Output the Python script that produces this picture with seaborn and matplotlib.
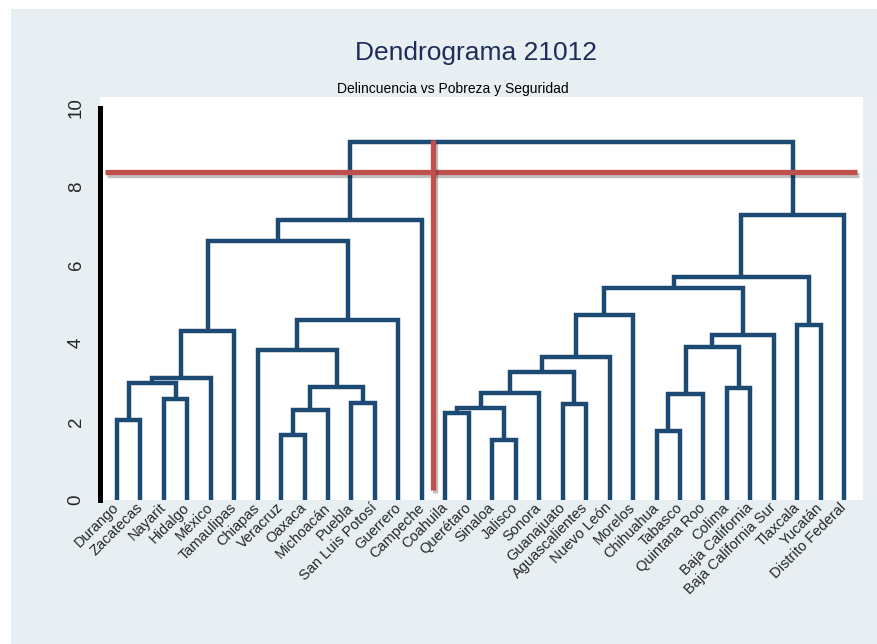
import pandas as pd
import seaborn as sns
import matplotlib.pyplot as plt
import matplotlib.patheffects as pe
from matplotlib.patches import Rectangle

sns.set_theme(style="white")
plt.rcParams['font.family'] = ['Liberation Sans', 'DejaVu Sans']

estados = ['Durango', 'Zacatecas', 'Nayarit', 'Hidalgo', 'México', 'Tamaulipas',
           'Chiapas', 'Veracruz', 'Oaxaca', 'Michoacán', 'Puebla', 'San Luis Potosí',
           'Guerrero', 'Campeche', 'Coahuila', 'Querétaro', 'Sinaloa', 'Jalisco',
           'Sonora', 'Guanajuato', 'Aguascalientes', 'Nuevo León', 'Morelos',
           'Chihuahua', 'Tabasco', 'Quintana Roo', 'Colima', 'Baja California',
           'Baja California Sur', 'Tlaxcala', 'Yucatán', 'Distrito Federal']

# uniones del dendrograma: c0, c1, ... en orden
izq = ['Durango', 'Nayarit', 'c0', 'c2', 'c3', 'Veracruz', 'c5', 'Puebla', 'c6',
       'Chiapas', 'c9', 'c4', 'c11', 'Coahuila', 'Sinaloa', 'c13', 'c15',
       'Guanajuato', 'c16', 'c18', 'c19', 'Chihuahua', 'c21', 'Colima', 'c22',
       'c24', 'c20', 'Tlaxcala', 'c26', 'c28', 'c12']
der = ['Zacatecas', 'Hidalgo', 'c1', 'México', 'Tamaulipas', 'Oaxaca', 'Michoacán',
       'San Luis Potosí', 'c7', 'c8', 'Guerrero', 'c10', 'Campeche', 'Querétaro',
       'Jalisco', 'c14', 'Sonora', 'Aguascalientes', 'c17', 'Nuevo León', 'Morelos',
       'Tabasco', 'Quintana Roo', 'Baja California', 'c23', 'Baja California Sur',
       'c25', 'Yucatán', 'c27', 'Distrito Federal', 'c29']
altura = [2.04, 2.58, 2.98, 3.11, 4.31, 1.66, 2.30, 2.47, 2.88, 3.83, 4.59, 6.61,
          7.14, 2.22, 1.53, 2.35, 2.73, 2.45, 3.27, 3.65, 4.72, 1.76, 2.70, 2.86,
          3.90, 4.21, 5.41, 4.46, 5.69, 7.27, 9.13]

corte_h = 8.37
corte_v = 13.47

pos = {e: i for i, e in enumerate(estados)}
alt = {e: 0.0 for e in estados}
rows = []
for k, (a, b, h) in enumerate(zip(izq, der, altura)):
    xa, xb = pos[a], pos[b]
    for x, y in [(xa, alt[a]), (xa, h), (xb, h), (xb, alt[b])]:
        rows.append({'seg': k, 'x': x, 'y': y})
    pos[f'c{k}'] = (xa + xb) / 2
    alt[f'c{k}'] = h
df = pd.DataFrame(rows)

fig = plt.figure(figsize=(8.77, 6.44), dpi=100, facecolor='white')
fig.patches.append(Rectangle((11 / 877, 0), 1, 1 - 9 / 644, transform=fig.transFigure,
                             facecolor='#e8eff2', edgecolor='none', zorder=-1))
ax = fig.add_axes([0.114, 0.2236, 0.870, 0.626])
ax.set_facecolor('white')

sns.lineplot(data=df, x='x', y='y', units='seg', estimator=None, sort=False,
             color='#1d4a73', lw=3.2, ax=ax, legend=False,
             solid_joinstyle='miter', solid_capstyle='butt')

sombra = [pe.SimpleLineShadow(offset=(1.5, -2), alpha=0.25, shadow_color='black'), pe.Normal()]
ax.plot([-0.51, 31.56], [corte_h, corte_h], color='#c0504d', lw=3.8,
        solid_capstyle='butt', path_effects=sombra, zorder=5)
ax.plot([corte_v, corte_v], [0.25, altura[-1] + 0.05], color='#c0504d', lw=3.8,
        solid_capstyle='butt', path_effects=sombra, zorder=5)

ax.set_xlim(-0.72, 31.8)
ax.set_ylim(0, 10.28)
for s in ['top', 'right', 'bottom']:
    ax.spines[s].set_visible(False)
ax.spines['left'].set_color('black')
ax.spines['left'].set_linewidth(3.6)
ax.spines['left'].set_bounds(0, 10)

ax.set_yticks([0, 2, 4, 6, 8, 10])
ax.set_yticklabels(['0', '2', '4', '6', '8', '10'], rotation=90, va='center', fontsize=13.5)
ax.tick_params(axis='y', direction='in', length=3, width=2, color='black', pad=11)
ax.set_xticks(range(len(estados)))
ax.set_xticklabels(estados, rotation=45, ha='right', va='center',
                   rotation_mode='anchor', fontsize=10.5)
ax.tick_params(axis='x', length=0, pad=4)
ax.set_xlabel('')
ax.set_ylabel('')

fig.text(0.543, 0.918, 'Dendrograma 21012', ha='center', va='center',
         fontsize=19, color='#1f2d5a')
fig.text(0.516, 0.862, 'Delincuencia vs Pobreza y Seguridad', ha='center',
         va='center', fontsize=10, color='black')

fig.savefig('out.png', dpi=100, facecolor=fig.get_facecolor())
